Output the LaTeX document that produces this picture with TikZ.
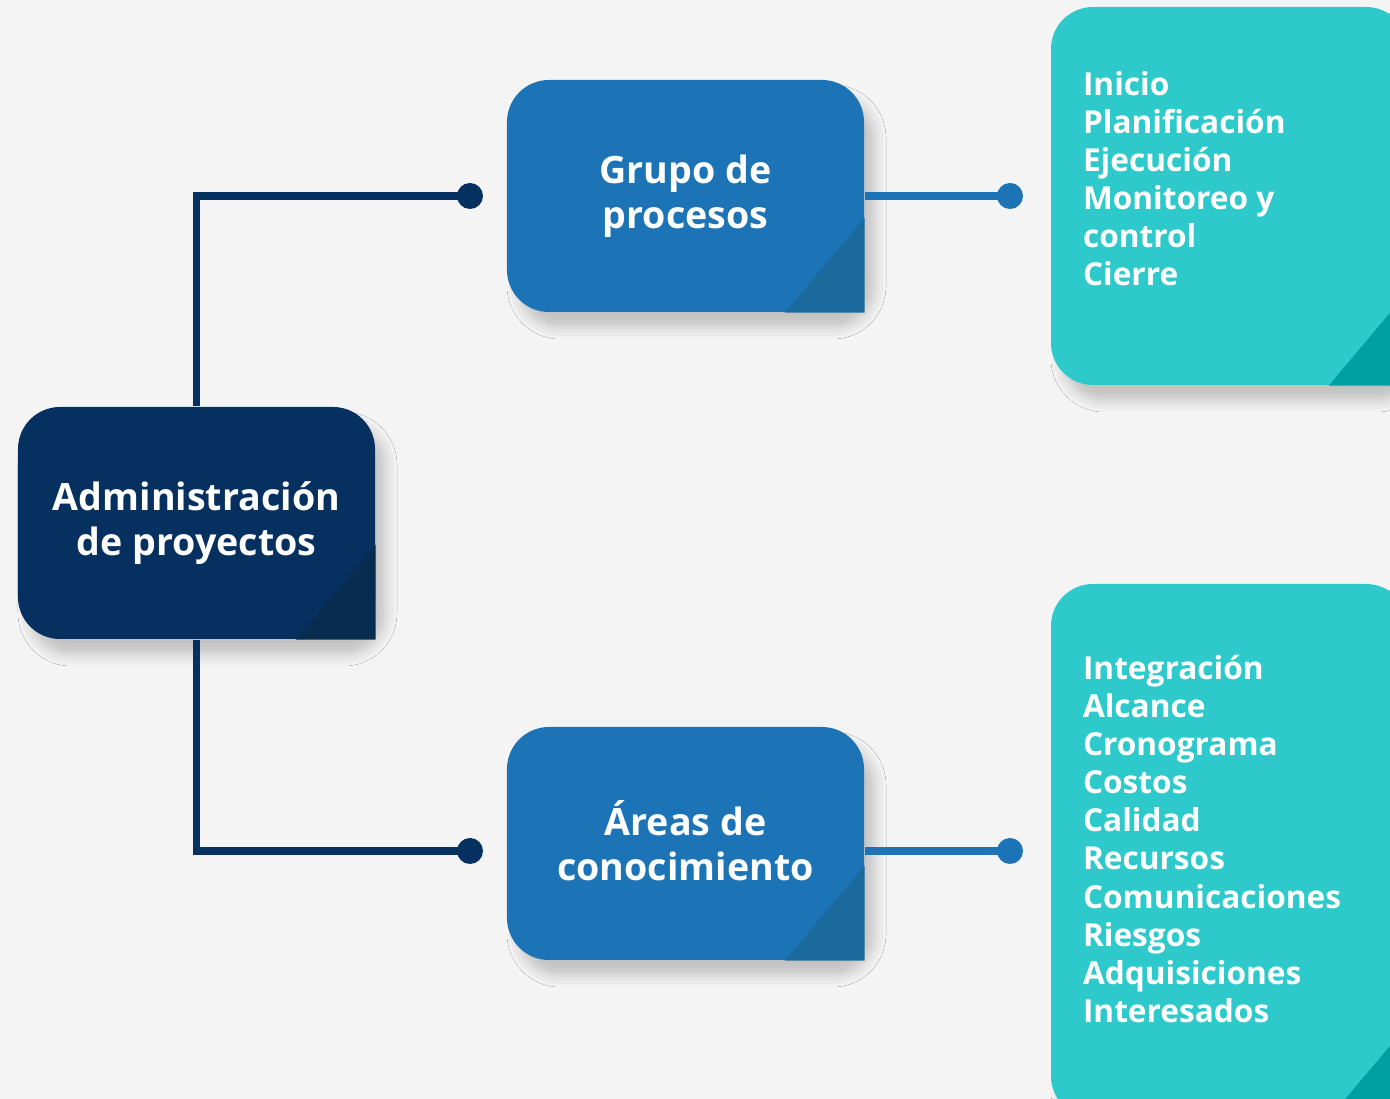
\documentclass[tikz,border=0pt]{standalone}
\usepackage{fontspec}
\setmainfont{Open Sans}
\usetikzlibrary{positioning,shadows.blur}

\definecolor{fondo}{HTML}{F4F4F4}
\definecolor{marino}{HTML}{06305F}
\definecolor{marinoosc}{HTML}{082C4F}
\definecolor{azul}{HTML}{1C73B6}
\definecolor{azulosc}{HTML}{1B6A9E}
\definecolor{turquesa}{HTML}{2EC9CB}
\definecolor{turquesaosc}{HTML}{00A0A2}

% folded corner at the bottom right of a box
\newcommand{\pliegue}[2]{\fill[#2] (#1.south east) -- ++(0,.95) -- ([xshift=-.8cm]#1.south east) -- cycle;}

\begin{document}
\begin{tikzpicture}[x=1cm,y=1cm,
  sombra/.style={blur shadow={shadow xshift=1.1mm,shadow yshift=-1.6mm,shadow opacity=20,shadow blur radius=1.1mm}},
  caja/.style={sombra,rounded corners=.42cm,minimum width=3.57cm,text=white,align=center,
    font=\fontsize{10.7}{12.8}\selectfont\bfseries},
  lista/.style={anchor=north west,inner sep=0pt,text=white,align=left,
    font=\fontsize{9}{10.85}\selectfont\bfseries},
  punto/.style={circle,inner sep=0pt,minimum size=.26cm},
  linea/.style={line width=.075cm}]
\useasboundingbox (0,0) rectangle (13.9,10.99);
\clip (0,0) rectangle (13.9,10.99);
\fill[fondo] (0,0) rectangle (13.9,10.99);

% boxes
\node[caja,fill=marino,minimum height=2.32cm] (admin) at (1.965,5.76) {Administración\\de proyectos};
\node[caja,fill=azul,minimum height=2.32cm] (grupo) at (6.855,9.03) {Grupo de\\procesos};
\node[caja,fill=azul,minimum height=2.33cm] (areas) at (6.855,2.555) {\smash{Á}reas de\\conocimiento};
\node[caja,fill=turquesa,minimum height=3.78cm] (fases) at (12.295,9.03) {};
\node[caja,fill=turquesa,minimum height=5.34cm] (temas) at (12.295,2.48) {};
\pliegue{admin}{marinoosc}
\pliegue{grupo}{azulosc}
\pliegue{areas}{azulosc}
\pliegue{fases}{turquesaosc}
\pliegue{temas}{turquesaosc}

% lists
\node[lista,below right=.64cm and .32cm of fases.north west] (fasestxt)
  {Inicio\\Planificación\\Ejecución\\Monitoreo y\\control\\Cierre};
\node[lista,below right=.71cm and .32cm of temas.north west] (temastxt)
  {Integración\\Alcance\\Cronograma\\Costos\\Calidad\\Recursos\\Comunicaciones\\Riesgos\\Adquisiciones\\Interesados};

% connectors
\node[punto,fill=marino] (p1) at (4.70,9.03) {};
\node[punto,fill=marino] (p2) at (4.70,2.48) {};
\node[punto,fill=azul] (p3) at (10.10,9.03) {};
\node[punto,fill=azul] (p4) at (10.10,2.48) {};
\draw[linea,marino] (admin.north) |- (p1.center);
\draw[linea,marino] (admin.south) |- (p2.center);
\draw[linea,azul] (grupo.east) -- (p3.center);
\draw[linea,azul] (areas.east |- p4) -- (p4.center);
\end{tikzpicture}
\end{document}
